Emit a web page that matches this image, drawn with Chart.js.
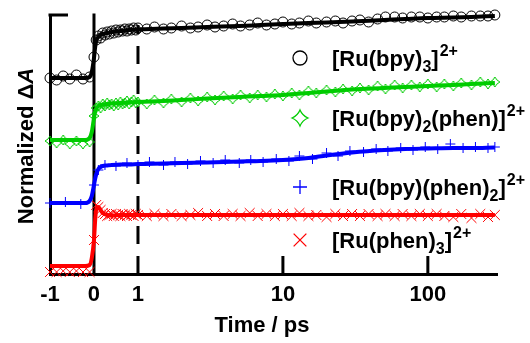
<!DOCTYPE html>
<html>
<head>
<meta charset="utf-8">
<script src="https://cdn.jsdelivr.net/npm/chart.js@4.4.0/dist/chart.umd.min.js"></script>
<style>
  html, body { margin: 0; padding: 0; background: #fff; }
</style>
</head>
<body>
<canvas id="chart" width="530" height="343"></canvas>
<script>
// --- Data (time in ps, normalized dA with vertical offsets) ---
const times = [
  -1.0, -0.85, -0.7, -0.55, -0.4, -0.25, -0.1, 0.0, 0.05, 0.1,
  0.15, 0.2, 0.25, 0.3, 0.35, 0.4, 0.45, 0.5, 0.55, 0.6,
  0.65, 0.7, 0.75, 0.8, 0.85, 0.9, 0.95, 1.0, 1.15, 1.3,
  1.5, 1.7, 2.0, 2.3, 2.6, 3.0, 3.4, 3.9, 4.5, 5.1,
  5.9, 6.7, 7.7, 8.8, 10, 11.5, 13, 15, 17, 20,
  23, 26, 30, 34, 39, 45, 51, 59, 67, 77,
  88, 100, 115, 130, 150, 170, 200, 230, 260, 290
];
const blueTimes = [
  -1, -0.65, -0.3, 0, 0.1, 0.25, 0.5, 0.75, 1.0, 1.2,
  1.5, 1.8, 2.2, 2.7, 3.3, 4, 5, 6, 7.3, 9,
  11, 13, 16, 20, 24, 29, 36, 44, 53, 65,
  79, 96, 117, 143, 175, 213, 260, 290
];
const fitTimes = [-1, -0.2, -0.1, -0.05, 0, 0.03, 0.06, 0.1, 0.15, 0.2,
  0.3, 0.4, 0.6, 0.8, 1, 1.5, 2, 3, 5, 7,
  10, 15, 20, 30, 50, 70, 100, 150, 200, 290];

const bpy3 = [
  1.96, 1.94, 1.98, 1.95, 1.99, 1.95, 1.97, 2.17, 2.34, 2.38,
  2.36, 2.41, 2.39, 2.42, 2.40, 2.43, 2.41, 2.44, 2.42, 2.44,
  2.43, 2.45, 2.43, 2.45, 2.44, 2.46, 2.44, 2.46, 2.45, 2.47,
  2.45, 2.46, 2.48, 2.46, 2.47, 2.49, 2.47, 2.48, 2.50, 2.48,
  2.49, 2.51, 2.49, 2.50, 2.52, 2.50, 2.51, 2.53, 2.51, 2.52,
  2.53, 2.51, 2.53, 2.54, 2.52, 2.55, 2.57, 2.57, 2.56, 2.57,
  2.57, 2.56, 2.57, 2.57, 2.58, 2.57, 2.58, 2.58, 2.58, 2.59
];
const bpy2phen = [
  1.33, 1.31, 1.34, 1.30, 1.33, 1.30, 1.32, 1.58, 1.66, 1.68,
  1.66, 1.70, 1.68, 1.71, 1.69, 1.70, 1.68, 1.71, 1.69, 1.72,
  1.70, 1.71, 1.73, 1.70, 1.72, 1.74, 1.71, 1.72, 1.70, 1.74,
  1.71, 1.75, 1.72, 1.76, 1.73, 1.77, 1.74, 1.78, 1.75, 1.79,
  1.76, 1.79, 1.77, 1.80, 1.78, 1.81, 1.79, 1.83, 1.81, 1.84,
  1.82, 1.85, 1.83, 1.86, 1.84, 1.88, 1.85, 1.89, 1.86, 1.89,
  1.87, 1.90, 1.87, 1.90, 1.88, 1.91, 1.89, 1.92, 1.90, 1.92
];
const bpyphen2 = [
  0.71, 0.72, 0.70, 0.89, 1.04, 1.09, 1.08, 1.11, 1.09, 1.12,
  1.09, 1.12, 1.10, 1.13, 1.11, 1.14, 1.11, 1.14, 1.12, 1.15,
  1.13, 1.18, 1.15, 1.21, 1.18, 1.23, 1.22, 1.25, 1.23, 1.26,
  1.24, 1.27, 1.25, 1.30, 1.26, 1.27, 1.26, 1.27
];
const phen3 = [
  0.02, 0.02, 0.03, 0.02, 0.03, 0.02, 0.02, 0.34, 0.69, 0.67,
  0.64, 0.61, 0.60, 0.58, 0.59, 0.60, 0.58, 0.60, 0.59, 0.58,
  0.60, 0.59, 0.58, 0.60, 0.59, 0.58, 0.60, 0.59, 0.58, 0.60,
  0.58, 0.60, 0.58, 0.59, 0.61, 0.58, 0.60, 0.58, 0.60, 0.58,
  0.61, 0.58, 0.60, 0.58, 0.60, 0.58, 0.61, 0.58, 0.59, 0.57,
  0.60, 0.58, 0.60, 0.58, 0.60, 0.58, 0.60, 0.58, 0.60, 0.58,
  0.60, 0.58, 0.60, 0.58, 0.57, 0.60, 0.56, 0.60, 0.57, 0.59
];

const bpy3Fit = [1.96, 1.96, 1.97, 2.02, 2.16, 2.28, 2.34, 2.37, 2.39, 2.40,
  2.41, 2.42, 2.43, 2.44, 2.445, 2.455, 2.46, 2.47, 2.48, 2.49,
  2.50, 2.51, 2.515, 2.525, 2.54, 2.55, 2.56, 2.565, 2.57, 2.58];
const bpy2phenFit = [1.34, 1.34, 1.36, 1.42, 1.56, 1.63, 1.66, 1.68, 1.69, 1.695,
  1.70, 1.705, 1.71, 1.715, 1.72, 1.73, 1.74, 1.755, 1.77, 1.78,
  1.79, 1.81, 1.825, 1.845, 1.86, 1.87, 1.88, 1.89, 1.90, 1.91];
const bpyphen2Fit = [0.71, 0.71, 0.73, 0.78, 0.89, 0.96, 1.01, 1.05, 1.07, 1.08,
  1.085, 1.09, 1.095, 1.095, 1.10, 1.105, 1.11, 1.115, 1.125, 1.13,
  1.14, 1.16, 1.185, 1.215, 1.24, 1.25, 1.255, 1.26, 1.26, 1.265];
const phen3Fit = [0.08, 0.08, 0.09, 0.16, 0.34, 0.56, 0.66, 0.67, 0.64, 0.61,
  0.59, 0.585, 0.59, 0.59, 0.59, 0.59, 0.59, 0.59, 0.59, 0.59,
  0.59, 0.59, 0.59, 0.59, 0.59, 0.59, 0.59, 0.59, 0.59, 0.59];

const tickTimes = [-1, 0, 1, 10, 100];
const tickLabels = ['-1', '0', '1', '10', '100'];
const innerTicks = [10, 100];

// legend labels: [text, 'n' | 'sub' | 'sup']
const legendLabels = [
  [['[Ru(bpy)', 'n'], ['3', 'sub'], [']', 'n'], ['2+', 'sup']],
  [['[Ru(bpy)', 'n'], ['2', 'sub'], ['(phen)]', 'n'], ['2+', 'sup']],
  [['[Ru(bpy)(phen)', 'n'], ['2', 'sub'], [']', 'n'], ['2+', 'sup']],
  [['[Ru(phen)', 'n'], ['3', 'sub'], [']', 'n'], ['2+', 'sup']]
];

const GREEN = '#00cc00';
const FONT = '"Liberation Sans", Arial, sans-serif';

// linear below 1 ps, log above
const LOG_K = 3.295;
function toAxis(t) { return t <= 1 ? t : 1 + Math.log10(t) * LOG_K; }
const pts = (ts, ys) => ts.map((t, i) => ({ x: toAxis(t), y: ys[i] }));

function starImage(size, color, lw) {
  const c = document.createElement('canvas');
  c.width = c.height = size + 4;
  const g = c.getContext('2d');
  const m = c.width / 2, r = size / 2, k = 0.3 * r;
  g.strokeStyle = color; g.lineWidth = lw;
  g.beginPath();
  g.moveTo(m, m - r);
  g.quadraticCurveTo(m + k, m - k, m + r, m);
  g.quadraticCurveTo(m + k, m + k, m, m + r);
  g.quadraticCurveTo(m - k, m + k, m - r, m);
  g.quadraticCurveTo(m - k, m - k, m, m - r);
  g.closePath(); g.stroke();
  return c;
}
const starSmall = starImage(10, GREEN, 1);
const starBig = starImage(16, GREEN, 1.3);

const markerStyles = [
  { pointStyle: 'circle', radius: 7, borderWidth: 1.3, color: '#000' },
  { pointStyle: starBig, radius: 8, borderWidth: 1, color: GREEN },
  { pointStyle: 'cross', radius: 7, borderWidth: 1.3, color: '#0000ff' },
  { pointStyle: 'crossRot', radius: 9, borderWidth: 1.3, color: '#ff0000' }
];
const legendRows = [66, 126, 195, 248];

function markers(data, style, color, r) {
  return {
    data, showLine: false, order: 1,
    pointStyle: style, pointRadius: r, borderColor: color, pointBorderColor: color,
    pointBackgroundColor: 'rgba(0,0,0,0)', pointBorderWidth: 1, clip: false
  };
}
function fit(data, color) {
  return {
    data, order: 0, borderColor: color, borderWidth: 4, pointRadius: 0,
    cubicInterpolationMode: 'monotone', fill: false, clip: false
  };
}

function drawRich(ctx, x, y, parts) {
  for (const [txt, kind] of parts) {
    if (kind === 'sub') {
      ctx.font = 'bold 16px ' + FONT;
      ctx.fillText(txt, x, y + 6);
    } else if (kind === 'sup') {
      ctx.font = 'bold 16px ' + FONT;
      ctx.fillText(txt, x + 1, y - 10);
    } else {
      ctx.font = 'bold 22px ' + FONT;
      ctx.fillText(txt, x, y);
    }
    x += ctx.measureText(txt).width;
  }
}

const extras = {
  id: 'extras',
  beforeDatasetsDraw(chart) {
    const { ctx, chartArea: a, scales: { x } } = chart;
    ctx.save();
    ctx.strokeStyle = '#000';
    ctx.lineWidth = 3;
    const x0 = x.getPixelForValue(toAxis(0));
    ctx.beginPath(); ctx.moveTo(x0, a.top - 1.5); ctx.lineTo(x0, a.bottom); ctx.stroke();
    const x1 = x.getPixelForValue(toAxis(1));
    ctx.setLineDash([18, 12]);
    ctx.beginPath(); ctx.moveTo(x1, a.bottom); ctx.lineTo(x1, a.top + 10); ctx.stroke();
    ctx.restore();
  },
  afterDraw(chart) {
    const { ctx, chartArea: a, scales: { x } } = chart;
    ctx.save();
    ctx.strokeStyle = '#000';
    ctx.lineWidth = 3;
    // top bracket
    ctx.beginPath(); ctx.moveTo(a.left - 1.5, a.top); ctx.lineTo(a.left + 18, a.top); ctx.stroke();
    // inward ticks
    innerTicks.forEach(t => {
      const px = x.getPixelForValue(toAxis(t));
      ctx.beginPath(); ctx.moveTo(px, a.bottom); ctx.lineTo(px, a.bottom - 18); ctx.stroke();
    });

    ctx.fillStyle = '#000';
    ctx.textBaseline = 'alphabetic';
    // x title
    ctx.font = 'bold 22px ' + FONT;
    ctx.textAlign = 'center';
    ctx.fillText('Time / ps', 262, 332);

    // y title with italic A
    ctx.save();
    ctx.translate(33, 146);
    ctx.rotate(-Math.PI / 2);
    ctx.textAlign = 'left';
    ctx.font = 'bold 22px ' + FONT;
    const t1 = 'Normalized \u0394';
    const w1 = ctx.measureText(t1).width;
    ctx.font = 'italic bold 22px ' + FONT;
    const w2 = ctx.measureText('A').width;
    const sx = -(w1 + w2) / 2;
    ctx.font = 'bold 22px ' + FONT;
    ctx.fillText(t1, sx, 0);
    ctx.font = 'italic bold 22px ' + FONT;
    ctx.fillText('A', sx + w1, 0);
    ctx.restore();

    // legend
    ctx.textAlign = 'left';
    legendLabels.forEach((parts, i) => {
      const y = legendRows[i];
      const m = markerStyles[i];
      ctx.strokeStyle = m.color;
      ctx.fillStyle = 'rgba(0,0,0,0)';
      ctx.lineWidth = m.borderWidth;
      Chart.helpers.drawPoint(ctx, m, 300, y - 8);
      ctx.fillStyle = '#000';
      drawRich(ctx, 332, y, parts);
    });
    ctx.restore();
  }
};

Chart.defaults.font.family = FONT;
Chart.defaults.color = '#000';

new Chart(document.getElementById('chart'), {
  type: 'line',
  data: {
    datasets: [
      markers(pts(times, bpy3), 'circle', '#000', 5),
      markers(pts(times, bpy2phen), starSmall, GREEN, 5),
      markers(pts(blueTimes, bpyphen2), 'cross', '#0000ff', 5),
      markers(pts(times, phen3), 'crossRot', '#ff0000', 7),
      fit(pts(fitTimes, bpy3Fit), '#000'),
      fit(pts(fitTimes, bpy2phenFit), GREEN),
      fit(pts(fitTimes, bpyphen2Fit), '#0000ff'),
      fit(pts(fitTimes, phen3Fit), '#ff0000')
    ]
  },
  options: {
    responsive: false,
    animation: false,
    events: [],
    layout: { padding: { top: 15, right: 33, left: 0, bottom: 0 } },
    plugins: { legend: { display: false }, tooltip: { enabled: false } },
    scales: {
      x: {
        type: 'linear',
        min: -1,
        max: toAxis(300),
        afterFit: s => { s.height = 69; },
        afterBuildTicks: s => { s.ticks = tickTimes.map(t => ({ value: toAxis(t) })); },
        grid: { display: false, drawTicks: false },
        border: { display: true, color: '#000', width: 3 },
        ticks: {
          autoSkip: false, maxRotation: 0, padding: 8,
          font: { size: 22, weight: 'bold' },
          callback: (v, i) => tickLabels[i]
        }
      },
      y: {
        min: 0,
        max: 2.59,
        afterFit: s => { s.width = 50; },
        grid: { display: false, drawTicks: false },
        border: { display: true, color: '#000', width: 3 },
        ticks: { display: false }
      }
    }
  },
  plugins: [extras]
});
</script>
</body>
</html>
